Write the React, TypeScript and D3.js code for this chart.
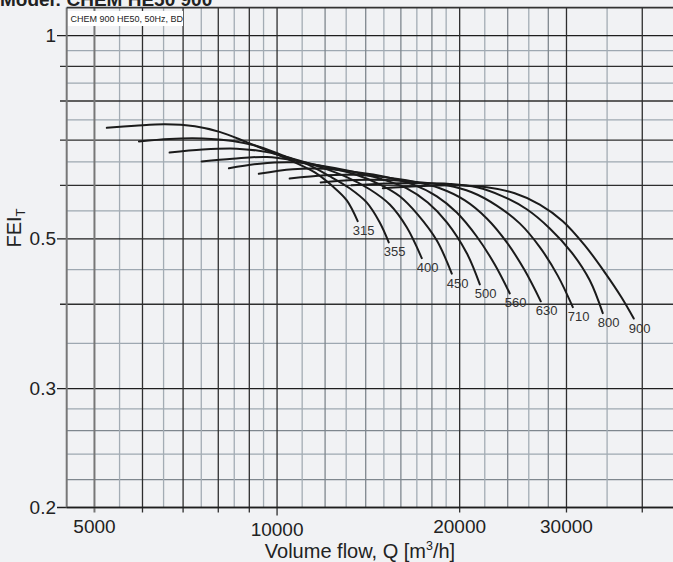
import React from 'react';
import * as d3 from 'd3';

const sizes = ['315', '355', '400', '450', '500', '560', '630', '710', '800', '900'];

// [volume flow m3/h, FEI_T]
const curve315: [number, number][] = [[5240, 0.730], [5830, 0.735], [6530, 0.739], [7320, 0.734], [8040, 0.720], [8850, 0.697], [9730, 0.673], [10610, 0.651], [11540, 0.627], [12350, 0.598], [13030, 0.570], [13580, 0.531]];
const curve355: [number, number][] = [[5920, 0.697], [6650, 0.703], [7540, 0.704], [8450, 0.698], [9370, 0.684], [10370, 0.661], [11200, 0.645], [12210, 0.619], [13170, 0.594], [14050, 0.566], [14760, 0.529], [15280, 0.494]];
const curve400: [number, number][] = [[6650, 0.671], [7540, 0.678], [8580, 0.680], [9620, 0.672], [10610, 0.657], [11760, 0.639], [13030, 0.617], [14210, 0.592], [15340, 0.562], [16360, 0.520], [17320, 0.468]];
const curve450: [number, number][] = [[7510, 0.651], [8450, 0.657], [9620, 0.661], [10780, 0.652], [11980, 0.639], [13430, 0.623], [14760, 0.602], [15930, 0.578], [17060, 0.543], [18340, 0.497], [19410, 0.444]];
const curve500: [number, number][] = [[8330, 0.636], [9370, 0.646], [10610, 0.649], [11760, 0.642], [13170, 0.630], [14760, 0.614], [16360, 0.594], [17720, 0.566], [19050, 0.529], [20550, 0.476], [21590, 0.428]];
const curve560: [number, number][] = [[9330, 0.624], [10610, 0.634], [11980, 0.635], [13430, 0.628], [15050, 0.618], [16740, 0.602], [18340, 0.578], [19780, 0.547], [21340, 0.504], [22850, 0.458], [24190, 0.415]];
const curve630: [number, number][] = [[10490, 0.614], [11980, 0.621], [13430, 0.622], [15050, 0.617], [16740, 0.608], [18550, 0.594], [20400, 0.570], [22170, 0.536], [23920, 0.494], [25600, 0.449], [27210, 0.404]];
const curve710: [number, number][] = [[11800, 0.606], [13430, 0.611], [15160, 0.611], [16990, 0.607], [19050, 0.600], [20940, 0.586], [23020, 0.560], [25120, 0.527], [27110, 0.486], [29020, 0.441], [30730, 0.396]];
const curve800: [number, number][] = [[13270, 0.600], [15160, 0.604], [17190, 0.605], [19260, 0.603], [21340, 0.596], [23550, 0.578], [25800, 0.553], [28160, 0.518], [30610, 0.477], [32770, 0.434], [34430, 0.388]];
const curve900: [number, number][] = [[14940, 0.594], [17060, 0.598], [19490, 0.600], [22170, 0.596], [24650, 0.584], [27110, 0.562], [29580, 0.531], [32160, 0.489], [34690, 0.446], [37000, 0.409], [38730, 0.381]];

const curves = [curve315, curve355, curve400, curve450, curve500, curve560, curve630, curve710, curve800, curve900];

const yTickLabels = [1, 0.5, 0.3, 0.2];
const yMajorGrid = [0.9, 0.8, 0.7, 0.6, 0.4];
const yMinorGrid = [0.95, 0.85, 0.75, 0.65, 0.55, 0.45, 0.35, 0.28, 0.24];
const yMidGrid = [0.26, 0.22];

const xTickLabels = [5000, 10000, 20000, 30000];
const xMajorGrid = [6000, 7000, 8000, 9000, 10000, 20000, 30000, 40000];
const xMidGrid = [12000, 14000, 16000, 18000, 24000, 28000];
const xMinorGrid = [5500, 6500, 7500, 8500, 9500, 11000, 13000, 15000, 17000, 19000, 22000, 26000, 35000];

const W = 673;
const H = 562;
const FONT = "'Liberation Sans', Arial, Helvetica, sans-serif";

export default function App() {
  const x = d3.scaleLog().domain([4500, 45000]).range([66.7, 673.3]);
  const y = d3.scaleLog().domain([0.2, 1.1]).range([507.5, 7.6]);
  const left = x(4500);
  const right = x(45000);
  const top = y(1.1);
  const bottom = y(0.2);

  const line = d3
    .line<[number, number]>()
    .x((d) => x(d[0]))
    .y((d) => y(d[1]))
    .curve(d3.curveCatmullRom.alpha(0.5));

  return (
    <svg
      width={W}
      height={H}
      style={{ position: 'absolute', left: 0, top: 0, fontFamily: FONT }}
    >
      <rect x={0} y={0} width={W} height={H} fill="#f1f2f4" />
      <text x={0} y={6} fontSize={19} fontWeight="bold" fill="#222">
        Model: CHEM HE50 900
      </text>

      {/* minor grid */}
      {yMinorGrid.map((v) => (
        <line key={'ym' + v} x1={left} x2={right} y1={y(v)} y2={y(v)} stroke="#9ea8b1" strokeWidth={1.2} />
      ))}
      {yMidGrid.map((v) => (
        <line key={'yd' + v} x1={left} x2={right} y1={y(v)} y2={y(v)} stroke="#7f878e" strokeWidth={1.2} />
      ))}
      {xMinorGrid.map((q) => (
        <line key={'xm' + q} x1={x(q)} x2={x(q)} y1={top} y2={bottom} stroke="#a3acb4" strokeWidth={1.3} />
      ))}
      {xMidGrid.map((q) => (
        <line key={'xd' + q} x1={x(q)} x2={x(q)} y1={top} y2={bottom} stroke="#7f878e" strokeWidth={1.3} />
      ))}
      {/* major grid */}
      {yMajorGrid.map((v) => (
        <line key={'yM' + v} x1={60} x2={right} y1={y(v)} y2={y(v)} stroke="#2e2e2e" strokeWidth={1.3} />
      ))}
      {yTickLabels.map((v) => (
        <line key={'yT' + v} x1={57} x2={right} y1={y(v)} y2={y(v)} stroke="#1e1e1e" strokeWidth={1.3} />
      ))}
      {xMajorGrid.map((q) => (
        <line key={'xM' + q} x1={x(q)} x2={x(q)} y1={top} y2={bottom + (q === 10000 ? 8 : 5)} stroke="#2e2e2e" strokeWidth={1.3} />
      ))}
      {/* 5000 line and frame */}
      <line x1={x(5000)} x2={x(5000)} y1={top} y2={bottom + 5} stroke="#777" strokeWidth={2} />
      <line x1={left} x2={left} y1={top} y2={bottom} stroke="#777" strokeWidth={2} />
      <line x1={left} x2={right} y1={top} y2={top} stroke="#333" strokeWidth={1.6} />
      <line x1={left} x2={right} y1={bottom} y2={bottom} stroke="#1e1e1e" strokeWidth={1.4} />

      {/* white info box */}
      <rect x={68} y={11} width={115} height={15} fill="#ffffff" />
      <text x={70.5} y={22} fontSize={9} fill="#222">
        CHEM 900 HE50, 50Hz, BD
      </text>

      {/* curves */}
      {curves.map((c, i) => (
        <path key={'c' + i} d={line(c) || ''} fill="none" stroke="#1b1b1b" strokeWidth={2} strokeLinecap="round" />
      ))}
      {curves.map((c, i) => {
        const last = c[c.length - 1];
        return (
          <text key={'l' + i} x={x(last[0]) - 5} y={y(last[1]) + 14} fontSize={13} fill="#333">
            {sizes[i]}
          </text>
        );
      })}

      {/* y tick labels */}
      {yTickLabels.map((v) => (
        <text key={'yl' + v} x={56} y={y(v) + 6.5} fontSize={19} textAnchor="end" fill="#222">
          {String(v)}
        </text>
      ))}
      {/* x tick labels */}
      {xTickLabels.map((q) => (
        <text key={'xl' + q} x={x(q)} y={q === 10000 ? 536 : 532.5} fontSize={19} textAnchor="middle" fill="#222">
          {String(q)}
        </text>
      ))}
      <text x={360} y={557.5} fontSize={20} textAnchor="middle" fill="#222">
        Volume flow, Q [m<tspan fontSize={12.5} dy={-7.5}>3</tspan><tspan dy={7.5}>/h]</tspan>
      </text>
      <text transform="translate(21,228) rotate(-90)" fontSize={20} textAnchor="middle" fill="#222">
        FEI<tspan fontSize={13} dy={4}>T</tspan>
      </text>
    </svg>
  );
}
